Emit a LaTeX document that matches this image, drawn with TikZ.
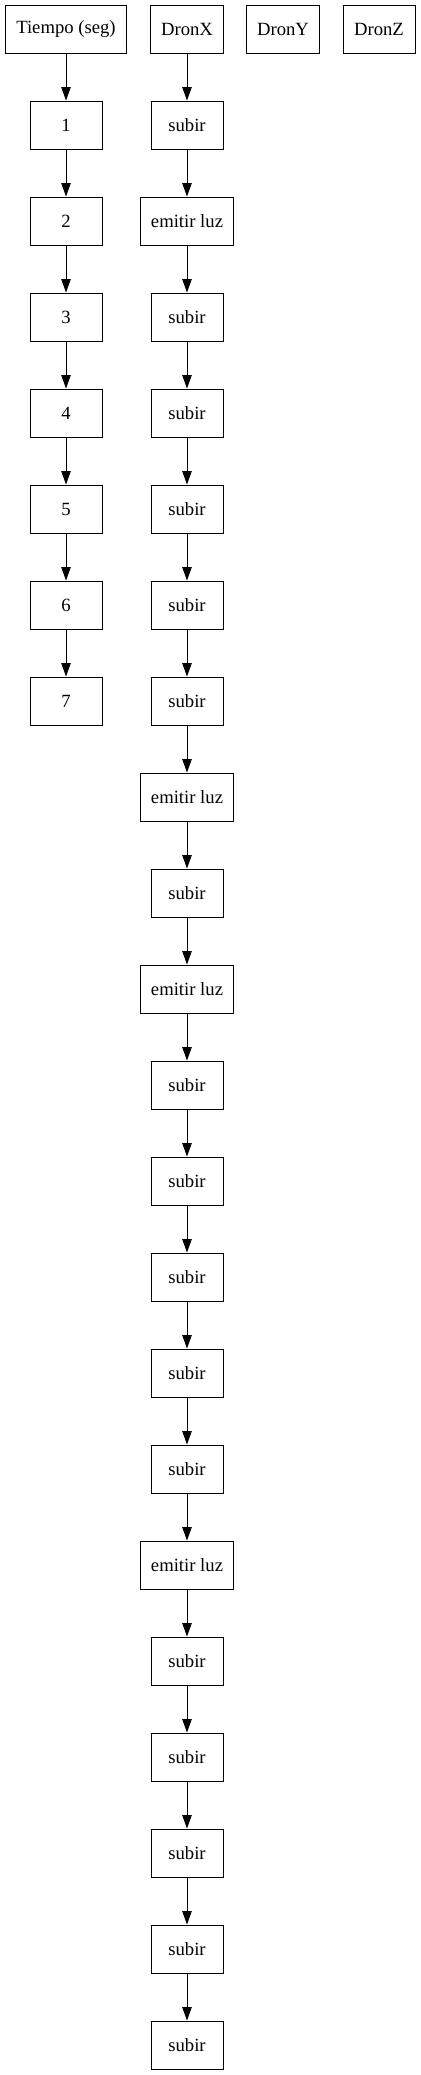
\documentclass[tikz,border=0pt]{standalone}
\usepackage{fontspec}
\setmainfont{Liberation Serif}
\usetikzlibrary{arrows.meta}

\begin{document}
\begin{tikzpicture}[x=0.75pt, y=-0.75pt,
  caja/.style={draw, line width=0.75pt, minimum width=54pt, minimum height=36pt,
    inner xsep=7.9pt, font=\fontsize{14}{16}\selectfont},
  flecha/.style={-{Triangle[length=10pt,width=7pt]}, line width=0.75pt}]
  \useasboundingbox (0,0) rectangle (421,2075);
  % cabecera
  \node[caja] (tiempo) at (66,29) {Tiempo (seg)};
  \node[caja] (dronx) at (187,29) {DronX};
  \node[caja] (drony) at (283,29) {DronY};
  \node[caja] (dronz) at (379,29) {DronZ};
  % segundos
  \foreach \t in {1,...,7}
    \node[caja] (t\t) at (66,29+96*\t) {\t};
  % acciones de DronX
  \foreach \accion [count=\i] in {subir,emitir luz,subir,subir,subir,subir,subir,
      emitir luz,subir,emitir luz,subir,subir,subir,subir,subir,emitir luz,
      subir,subir,subir,subir,subir}
    \node[caja] (x\i) at (187,29+96*\i) {\accion};
  % flechas
  \draw[flecha] (tiempo) -- (t1);
  \foreach \t [count=\s from 2] in {1,...,6}
    \draw[flecha] (t\t) -- (t\s);
  \draw[flecha] (dronx) -- (x1);
  \foreach \i [count=\j from 2] in {1,...,20}
    \draw[flecha] (x\i) -- (x\j);
\end{tikzpicture}
\end{document}
